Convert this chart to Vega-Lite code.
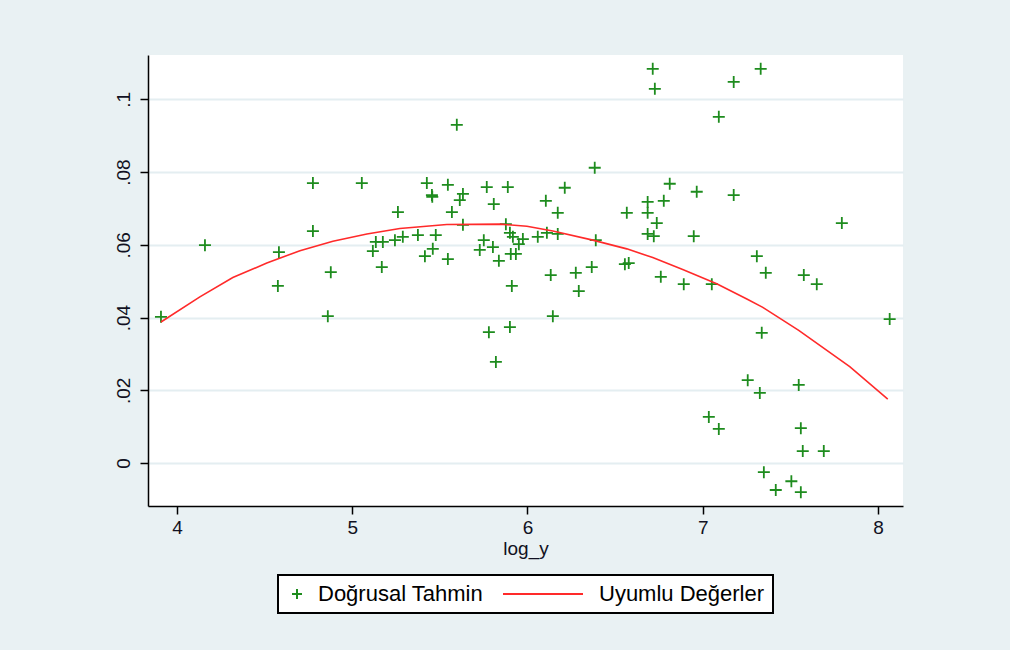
{
  "$schema": "https://vega.github.io/schema/vega-lite/v6.json",
  "autosize": "none",
  "width": 755,
  "height": 451,
  "padding": {"left": 148, "top": 55, "right": 107, "bottom": 144},
  "background": "#E9F1F3",
  "config": {
    "view": {"fill": "white", "stroke": null},
    "font": "Liberation Sans",
    "axis": {
      "labelFont": "Liberation Sans",
      "titleFont": "Liberation Sans",
      "labelColor": "#111122",
      "titleColor": "#111122",
      "domainColor": "#000000",
      "domainWidth": 1.5,
      "tickColor": "#000000",
      "tickWidth": 1.5,
      "tickSize": 8
    },
    "legend": {"strokeWidth": 2, "labelLimit": 400}
  },
  "datasets": {
    "pts": [
      {"series": "Doğrusal Tahmin", "log_y": 3.909, "value": 0.0402},
      {"series": "Doğrusal Tahmin", "log_y": 4.160, "value": 0.0599},
      {"series": "Doğrusal Tahmin", "log_y": 4.582, "value": 0.0580},
      {"series": "Doğrusal Tahmin", "log_y": 4.576, "value": 0.0487},
      {"series": "Doğrusal Tahmin", "log_y": 4.776, "value": 0.0770},
      {"series": "Doğrusal Tahmin", "log_y": 4.776, "value": 0.0638},
      {"series": "Doğrusal Tahmin", "log_y": 4.861, "value": 0.0404},
      {"series": "Doğrusal Tahmin", "log_y": 4.878, "value": 0.0525},
      {"series": "Doğrusal Tahmin", "log_y": 5.055, "value": 0.0770},
      {"series": "Doğrusal Tahmin", "log_y": 5.118, "value": 0.0583},
      {"series": "Doğrusal Tahmin", "log_y": 5.135, "value": 0.0608},
      {"series": "Doğrusal Tahmin", "log_y": 5.175, "value": 0.0608},
      {"series": "Doğrusal Tahmin", "log_y": 5.169, "value": 0.0539},
      {"series": "Doğrusal Tahmin", "log_y": 5.244, "value": 0.0613},
      {"series": "Doğrusal Tahmin", "log_y": 5.261, "value": 0.0690},
      {"series": "Doğrusal Tahmin", "log_y": 5.289, "value": 0.0622},
      {"series": "Doğrusal Tahmin", "log_y": 5.375, "value": 0.0627},
      {"series": "Doğrusal Tahmin", "log_y": 5.415, "value": 0.0569},
      {"series": "Doğrusal Tahmin", "log_y": 5.426, "value": 0.0770},
      {"series": "Doğrusal Tahmin", "log_y": 5.455, "value": 0.0737},
      {"series": "Doğrusal Tahmin", "log_y": 5.457, "value": 0.0732},
      {"series": "Doğrusal Tahmin", "log_y": 5.460, "value": 0.0589},
      {"series": "Doğrusal Tahmin", "log_y": 5.477, "value": 0.0627},
      {"series": "Doğrusal Tahmin", "log_y": 5.546, "value": 0.0765},
      {"series": "Doğrusal Tahmin", "log_y": 5.546, "value": 0.0561},
      {"series": "Doğrusal Tahmin", "log_y": 5.569, "value": 0.0690},
      {"series": "Doğrusal Tahmin", "log_y": 5.597, "value": 0.0930},
      {"series": "Doğrusal Tahmin", "log_y": 5.614, "value": 0.0723},
      {"series": "Doğrusal Tahmin", "log_y": 5.632, "value": 0.0740},
      {"series": "Doğrusal Tahmin", "log_y": 5.632, "value": 0.0655},
      {"series": "Doğrusal Tahmin", "log_y": 5.728, "value": 0.0586},
      {"series": "Doğrusal Tahmin", "log_y": 5.751, "value": 0.0613},
      {"series": "Doğrusal Tahmin", "log_y": 5.768, "value": 0.0759},
      {"series": "Doğrusal Tahmin", "log_y": 5.780, "value": 0.0360},
      {"series": "Doğrusal Tahmin", "log_y": 5.803, "value": 0.0594},
      {"series": "Doğrusal Tahmin", "log_y": 5.808, "value": 0.0712},
      {"series": "Doğrusal Tahmin", "log_y": 5.820, "value": 0.0278},
      {"series": "Doğrusal Tahmin", "log_y": 5.837, "value": 0.0556},
      {"series": "Doğrusal Tahmin", "log_y": 5.888, "value": 0.0759},
      {"series": "Doğrusal Tahmin", "log_y": 5.877, "value": 0.0657},
      {"series": "Doğrusal Tahmin", "log_y": 5.900, "value": 0.0633},
      {"series": "Doğrusal Tahmin", "log_y": 5.917, "value": 0.0622},
      {"series": "Doğrusal Tahmin", "log_y": 5.905, "value": 0.0575},
      {"series": "Doğrusal Tahmin", "log_y": 5.934, "value": 0.0575},
      {"series": "Doğrusal Tahmin", "log_y": 5.951, "value": 0.0602},
      {"series": "Doğrusal Tahmin", "log_y": 5.974, "value": 0.0616},
      {"series": "Doğrusal Tahmin", "log_y": 5.911, "value": 0.0487},
      {"series": "Doğrusal Tahmin", "log_y": 5.900, "value": 0.0374},
      {"series": "Doğrusal Tahmin", "log_y": 6.059, "value": 0.0622},
      {"series": "Doğrusal Tahmin", "log_y": 6.105, "value": 0.0721},
      {"series": "Doğrusal Tahmin", "log_y": 6.111, "value": 0.0633},
      {"series": "Doğrusal Tahmin", "log_y": 6.133, "value": 0.0517},
      {"series": "Doğrusal Tahmin", "log_y": 6.145, "value": 0.0404},
      {"series": "Doğrusal Tahmin", "log_y": 6.173, "value": 0.0688},
      {"series": "Doğrusal Tahmin", "log_y": 6.173, "value": 0.0630},
      {"series": "Doğrusal Tahmin", "log_y": 6.213, "value": 0.0757},
      {"series": "Doğrusal Tahmin", "log_y": 6.276, "value": 0.0523},
      {"series": "Doğrusal Tahmin", "log_y": 6.293, "value": 0.0473},
      {"series": "Doğrusal Tahmin", "log_y": 6.367, "value": 0.0539},
      {"series": "Doğrusal Tahmin", "log_y": 6.384, "value": 0.0812},
      {"series": "Doğrusal Tahmin", "log_y": 6.390, "value": 0.0613},
      {"series": "Doğrusal Tahmin", "log_y": 6.567, "value": 0.0688},
      {"series": "Doğrusal Tahmin", "log_y": 6.556, "value": 0.0547},
      {"series": "Doğrusal Tahmin", "log_y": 6.578, "value": 0.0550},
      {"series": "Doğrusal Tahmin", "log_y": 6.686, "value": 0.0718},
      {"series": "Doğrusal Tahmin", "log_y": 6.686, "value": 0.0688},
      {"series": "Doğrusal Tahmin", "log_y": 6.686, "value": 0.0630},
      {"series": "Doğrusal Tahmin", "log_y": 6.715, "value": 0.1084},
      {"series": "Doğrusal Tahmin", "log_y": 6.727, "value": 0.1029},
      {"series": "Doğrusal Tahmin", "log_y": 6.778, "value": 0.0721},
      {"series": "Doğrusal Tahmin", "log_y": 6.738, "value": 0.0660},
      {"series": "Doğrusal Tahmin", "log_y": 6.721, "value": 0.0624},
      {"series": "Doğrusal Tahmin", "log_y": 6.761, "value": 0.0512},
      {"series": "Doğrusal Tahmin", "log_y": 6.812, "value": 0.0768},
      {"series": "Doğrusal Tahmin", "log_y": 6.892, "value": 0.0492},
      {"series": "Doğrusal Tahmin", "log_y": 6.949, "value": 0.0624},
      {"series": "Doğrusal Tahmin", "log_y": 6.966, "value": 0.0746},
      {"series": "Doğrusal Tahmin", "log_y": 7.092, "value": 0.0952},
      {"series": "Doğrusal Tahmin", "log_y": 7.177, "value": 0.1048},
      {"series": "Doğrusal Tahmin", "log_y": 7.331, "value": 0.1084},
      {"series": "Doğrusal Tahmin", "log_y": 7.177, "value": 0.0737},
      {"series": "Doğrusal Tahmin", "log_y": 7.052, "value": 0.0492},
      {"series": "Doğrusal Tahmin", "log_y": 7.309, "value": 0.0569},
      {"series": "Doğrusal Tahmin", "log_y": 7.360, "value": 0.0523},
      {"series": "Doğrusal Tahmin", "log_y": 7.577, "value": 0.0517},
      {"series": "Doğrusal Tahmin", "log_y": 7.651, "value": 0.0492},
      {"series": "Doğrusal Tahmin", "log_y": 7.794, "value": 0.0660},
      {"series": "Doğrusal Tahmin", "log_y": 8.067, "value": 0.0396},
      {"series": "Doğrusal Tahmin", "log_y": 7.337, "value": 0.0358},
      {"series": "Doğrusal Tahmin", "log_y": 7.257, "value": 0.0228},
      {"series": "Doğrusal Tahmin", "log_y": 7.326, "value": 0.0193},
      {"series": "Doğrusal Tahmin", "log_y": 7.548, "value": 0.0215},
      {"series": "Doğrusal Tahmin", "log_y": 7.035, "value": 0.0127},
      {"series": "Doğrusal Tahmin", "log_y": 7.092, "value": 0.0094},
      {"series": "Doğrusal Tahmin", "log_y": 7.560, "value": 0.0096},
      {"series": "Doğrusal Tahmin", "log_y": 7.571, "value": 0.0033},
      {"series": "Doğrusal Tahmin", "log_y": 7.691, "value": 0.0033},
      {"series": "Doğrusal Tahmin", "log_y": 7.349, "value": -0.0025},
      {"series": "Doğrusal Tahmin", "log_y": 7.417, "value": -0.0074},
      {"series": "Doğrusal Tahmin", "log_y": 7.506, "value": -0.0050},
      {"series": "Doğrusal Tahmin", "log_y": 7.560, "value": -0.0080}
    ],
    "fit": [
      {"series": "Uyumlu Değerler", "log_y": 3.909, "value": 0.0388},
      {"series": "Uyumlu Değerler", "log_y": 4.131, "value": 0.0457},
      {"series": "Uyumlu Değerler", "log_y": 4.319, "value": 0.0510},
      {"series": "Uyumlu Değerler", "log_y": 4.513, "value": 0.0550},
      {"series": "Uyumlu Değerler", "log_y": 4.702, "value": 0.0584},
      {"series": "Uyumlu Değerler", "log_y": 4.890, "value": 0.0610},
      {"series": "Uyumlu Değerler", "log_y": 5.084, "value": 0.0630},
      {"series": "Uyumlu Değerler", "log_y": 5.272, "value": 0.0645},
      {"series": "Uyumlu Değerler", "log_y": 5.540, "value": 0.0656},
      {"series": "Uyumlu Değerler", "log_y": 5.843, "value": 0.0657},
      {"series": "Uyumlu Değerler", "log_y": 5.997, "value": 0.0651},
      {"series": "Uyumlu Değerler", "log_y": 6.145, "value": 0.0638},
      {"series": "Uyumlu Değerler", "log_y": 6.373, "value": 0.0613},
      {"series": "Uyumlu Değerler", "log_y": 6.567, "value": 0.0589},
      {"series": "Uyumlu Değerler", "log_y": 6.715, "value": 0.0565},
      {"series": "Uyumlu Değerler", "log_y": 6.886, "value": 0.0532},
      {"series": "Uyumlu Değerler", "log_y": 7.080, "value": 0.0493},
      {"series": "Uyumlu Değerler", "log_y": 7.252, "value": 0.0451},
      {"series": "Uyumlu Değerler", "log_y": 7.343, "value": 0.0428},
      {"series": "Uyumlu Değerler", "log_y": 7.548, "value": 0.0365},
      {"series": "Uyumlu Değerler", "log_y": 7.839, "value": 0.0265},
      {"series": "Uyumlu Değerler", "log_y": 8.056, "value": 0.0176}
    ]
  },
  "encoding": {
    "x": {
      "field": "log_y",
      "type": "quantitative",
      "scale": {"domain": [3.835, 8.143], "nice": false, "zero": false},
      "axis": {
        "title": "log_y",
        "values": [4, 5, 6, 7, 8],
        "grid": false,
        "labelFontSize": 19,
        "titleFontSize": 19,
        "titleFontWeight": "normal",
        "labelPadding": 4,
        "titlePadding": 2,
        "labelFlush": false
      }
    },
    "y": {
      "field": "value",
      "type": "quantitative",
      "scale": {"domain": [-0.0118, 0.1122], "nice": false, "zero": false},
      "axis": {
        "title": null,
        "values": [0, 0.02, 0.04, 0.06, 0.08, 0.1],
        "labelExpr": "datum.value == 0 ? '0' : replace(format(datum.value, '.2~f'), '0.', '.')",
        "labelAngle": -90,
        "labelFontSize": 19,
        "labelPadding": 7,
        "labelFlush": false,
        "grid": true,
        "gridColor": "#E4EEF1",
        "gridWidth": 2
      }
    },
    "color": {
      "field": "series",
      "type": "nominal",
      "scale": {"domain": ["Doğrusal Tahmin", "Uyumlu Değerler"], "range": ["#1E8C1E", "#FF2A2A"]},
      "legend": {
        "title": null,
        "orient": "none",
        "legendX": 130,
        "legendY": 520,
        "direction": "horizontal",
        "columns": 2,
        "labelFontSize": 22,
        "labelFont": "Liberation Sans",
        "labelColor": "#000000",
        "labelLimit": 400,
        "labelOffset": 10,
        "columnPadding": 15,
        "padding": 8,
        "fillColor": "white",
        "strokeColor": "#000000",
        "symbolSize": 100,
        "symbolStrokeWidth": 2,
        "symbolFillColor": "transparent",
        "symbolType": "M-1,0H1M0,-1V1"
      }
    }
  },
  "layer": [
    {
      "data": {"name": "pts"},
      "mark": {"type": "point", "shape": "M-1,0H1M0,-1V1", "filled": false, "size": 144, "strokeWidth": 1.8, "opacity": 1},
      "encoding": {
        "shape": {
          "field": "series",
          "type": "nominal",
          "scale": {"domain": ["Doğrusal Tahmin", "Uyumlu Değerler"], "range": ["M-1,0H1M0,-1V1", "M-15,0H1"]},
          "legend": {
            "title": null,
            "orient": "none",
            "legendX": 130,
            "legendY": 520,
            "direction": "horizontal",
            "columns": 2,
            "labelFontSize": 22,
            "labelLimit": 400,
            "labelOffset": 10,
            "columnPadding": 15,
            "padding": 8,
            "fillColor": "white",
            "strokeColor": "#000000",
            "symbolSize": 100,
            "symbolStrokeWidth": 2,
            "symbolFillColor": "transparent"
          }
        }
      }
    },
    {
      "data": {"name": "fit"},
      "mark": {"type": "line", "strokeWidth": 1.6},
      "encoding": {"order": {"field": "log_y", "type": "quantitative"}}
    }
  ]
}
